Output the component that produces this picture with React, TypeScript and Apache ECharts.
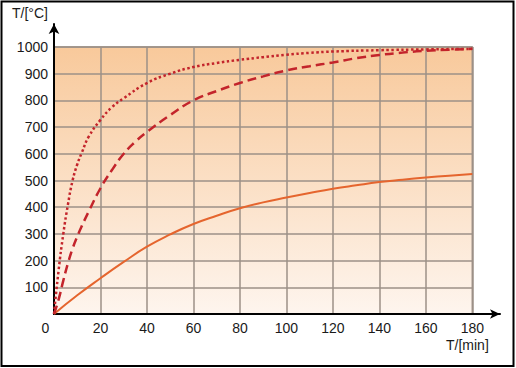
import React, { useEffect, useRef } from "react";
import * as echarts from "echarts";

const xTicks = [0, 20, 40, 60, 80, 100, 120, 140, 160, 180];
const yTicks = [0, 100, 200, 300, 400, 500, 600, 700, 800, 900, 1000];

const dottedT = [0, 2, 4, 6, 8, 10, 12, 15, 20, 25, 30, 40, 50, 60, 70, 80, 90, 100, 110, 120, 140, 160, 180];
const dottedV = [0, 165, 300, 410, 500, 560, 605, 665, 727, 775, 808, 865, 900, 925, 940, 952, 962, 971, 978, 983, 988, 991, 993];

const dashedT = [0, 2, 4, 6, 8, 10, 12, 15, 20, 25, 30, 35, 40, 50, 60, 70, 80, 90, 100, 110, 120, 130, 140, 150, 160, 170, 180];
const dashedV = [0, 55, 125, 190, 245, 290, 330, 385, 471, 540, 600, 645, 682, 745, 800, 835, 865, 890, 912, 928, 942, 958, 970, 979, 986, 990, 993];

const solidT = [0, 10, 20, 30, 40, 50, 60, 70, 80, 90, 100, 110, 120, 130, 140, 150, 160, 170, 180];
const solidV = [0, 70, 134, 195, 252, 298, 337, 368, 396, 418, 436, 453, 469, 482, 494, 503, 511, 518, 524];

const zip = (a: number[], b: number[]) => a.map((v, i) => [v, b[i]]);

const FONT = "'Liberation Sans', Arial, sans-serif";

export default function App() {
  const ref = useRef<HTMLDivElement>(null);
  useEffect(() => {
    document.body.style.margin = "0";
    const chart = echarts.init(ref.current!, undefined, { renderer: "svg" });
    const gridColor = "#9d9087";
    chart.setOption({
      animation: false,
      backgroundColor: "#ffffff",
      grid: [
        {
          left: 54,
          top: 47,
          right: 43.7,
          bottom: 54,
          show: true,
          backgroundColor: new echarts.graphic.LinearGradient(0, 0, 0, 1, [
            { offset: 0, color: "#f8c99b" },
            { offset: 1, color: "#fef5ee" },
          ]),
          borderColor: gridColor,
          borderWidth: 1.5,
        },
        { left: 54, top: 24, right: 16, bottom: 54, show: false },
      ],
      xAxis: [
        {
          gridIndex: 0,
          type: "value",
          min: xTicks[0],
          max: xTicks[xTicks.length - 1],
          interval: 20,
          axisLine: { show: false },
          axisTick: { show: false },
          splitLine: { show: true, lineStyle: { color: gridColor, width: 1.5 } },
          axisLabel: {
            margin: 7,
            color: "#1a1a1a",
            fontSize: 14,
            fontFamily: FONT,
            formatter: (v: number) => (v === 0 ? "{z|0}" : String(v)),
            rich: { z: { padding: [0, 17, 0, 0], fontSize: 14, fontFamily: FONT, color: "#1a1a1a" } },
          },
        },
        {
          gridIndex: 1,
          type: "value",
          min: 0,
          max: 1,
          axisLine: {
            show: true,
            lineStyle: { color: "#000", width: 2 },
            symbol: ["none", "arrow"],
            symbolSize: [7, 10],
          },
          axisTick: { show: false },
          axisLabel: { show: false },
          splitLine: { show: false },
        },
      ],
      yAxis: [
        {
          gridIndex: 0,
          type: "value",
          min: yTicks[0],
          max: yTicks[yTicks.length - 1],
          interval: 100,
          axisLine: { show: false },
          axisTick: { show: false },
          splitLine: { show: true, lineStyle: { color: gridColor, width: 1.5 } },
          axisLabel: {
            margin: 6,
            color: "#1a1a1a",
            fontSize: 14,
            fontFamily: FONT,
            formatter: (v: number) => (v === 0 ? "" : String(v)),
          },
        },
        {
          gridIndex: 1,
          type: "value",
          min: 0,
          max: 1,
          axisLine: {
            show: true,
            lineStyle: { color: "#000", width: 2 },
            symbol: ["none", "arrow"],
            symbolSize: [8, 10],
          },
          axisTick: { show: false },
          axisLabel: { show: false },
          splitLine: { show: false },
        },
      ],
      series: [
        {
          type: "line",
          xAxisIndex: 0,
          yAxisIndex: 0,
          data: zip(solidT, solidV),
          smooth: true,
          symbol: "none",
          lineStyle: { color: "#e5652e", width: 2 },
          z: 3,
        },
        {
          type: "line",
          xAxisIndex: 0,
          yAxisIndex: 0,
          data: zip(dashedT, dashedV),
          smooth: true,
          symbol: "none",
          lineStyle: { color: "#c3242b", width: 2.5, type: [9, 5] },
          z: 3,
        },
        {
          type: "line",
          xAxisIndex: 0,
          yAxisIndex: 0,
          data: zip(dottedT, dottedV),
          smooth: true,
          symbol: "none",
          lineStyle: { color: "#c3242b", width: 2.5, type: [2.5, 2.5] },
          z: 3,
        },
      ],
      graphic: [
        {
          type: "rect",
          shape: { x: 1.5, y: 1.5, width: 512, height: 364.5 },
          style: { fill: "none", stroke: "#000", lineWidth: 2 },
          z: 10,
        },
        {
          type: "text",
          left: 12,
          top: 6,
          style: { text: "T/[°C]", font: `14px ${FONT}`, fill: "#1a1a1a" },
        },
        {
          type: "text",
          left: 446,
          top: 338,
          style: { text: "T/[min]", font: `14px ${FONT}`, fill: "#1a1a1a" },
        },
      ],
    });
    return () => chart.dispose();
  }, []);
  return (
    <div
      ref={ref}
      style={{ position: "fixed", left: 0, top: 0, width: 516, height: 368 }}
    />
  );
}
